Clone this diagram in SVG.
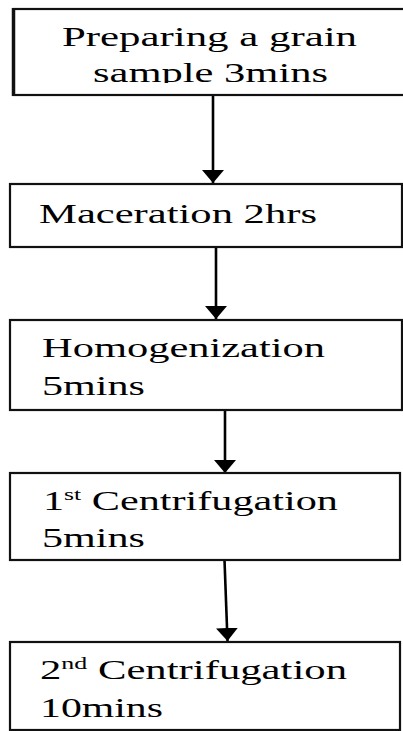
<svg xmlns="http://www.w3.org/2000/svg" width="403" height="731" viewBox="0 0 403 731">
<style>
.box{fill:#fff;stroke:#111;stroke-width:2.2}
text{font-family:'Liberation Serif','Times New Roman',serif;font-size:28px;fill:#000}
.sup{font-size:17px}
.conn line{stroke:#000;stroke-width:2.6}
</style>
<defs>
<marker id="ah" markerUnits="userSpaceOnUse" markerWidth="14" markerHeight="22" refX="13" refY="11" orient="auto" viewBox="0 0 14 22">
<path d="M0,0 L13,11 L0,22 Z" fill="#000"/>
</marker>
<clipPath id="c1"><rect x="0" y="0" width="403" height="83"/></clipPath>
</defs>
<rect width="403" height="731" fill="#fff"/>
<g id="connectors" class="conn">
<line x1="213" y1="95" x2="213" y2="183" marker-end="url(#ah)"/>
<line x1="216" y1="247" x2="216" y2="319" marker-end="url(#ah)"/>
<line x1="225" y1="410" x2="225" y2="473" marker-end="url(#ah)"/>
<line x1="224.5" y1="560" x2="227.5" y2="641" marker-end="url(#ah)"/>
</g>
<g id="n1">
<rect class="box" x="13.5" y="9" width="395" height="86"/>
<line x1="13.5" y1="8" x2="13.5" y2="96" stroke="#111" stroke-width="3.5"/>
<text x="62" y="46" textLength="295" lengthAdjust="spacingAndGlyphs">Preparing a grain</text>
<text x="93" y="82" textLength="235" lengthAdjust="spacingAndGlyphs" clip-path="url(#c1)">sample 3mins</text>
</g>
<g id="n2">
<rect class="box" x="10" y="184" width="392" height="63"/>
<text x="39" y="223" textLength="278" lengthAdjust="spacingAndGlyphs">Maceration 2hrs</text>
</g>
<g id="n3">
<rect class="box" x="10" y="320" width="392" height="90"/>
<text x="42" y="357" textLength="283" lengthAdjust="spacingAndGlyphs">Homogenization</text>
<text x="42" y="395" textLength="103" lengthAdjust="spacingAndGlyphs">5mins</text>
</g>
<g id="n4">
<rect class="box" x="10" y="473" width="390" height="87"/>
<text x="43" y="510" textLength="295" lengthAdjust="spacingAndGlyphs">1<tspan class="sup" dy="-10">st</tspan><tspan dy="10"> Centrifugation</tspan></text>
<text x="42" y="547" textLength="103" lengthAdjust="spacingAndGlyphs">5mins</text>
</g>
<g id="n5">
<rect class="box" x="10" y="642" width="390" height="88"/>
<text x="40" y="679" textLength="307" lengthAdjust="spacingAndGlyphs">2<tspan class="sup" dy="-10">nd</tspan><tspan dy="10"> Centrifugation</tspan></text>
<text x="40" y="717" textLength="123" lengthAdjust="spacingAndGlyphs">10mins</text>
</g>
</svg>
